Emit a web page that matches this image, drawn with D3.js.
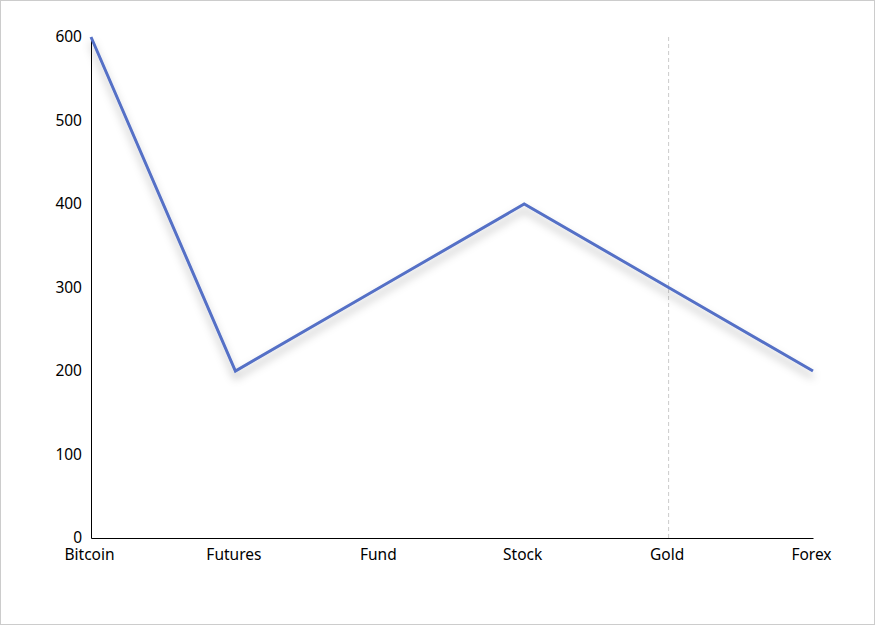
<!DOCTYPE html>
<html><head><meta charset="utf-8">
<script src="https://cdn.jsdelivr.net/npm/d3@7"></script>
<style>
body{margin:0;background:#fff}
svg{display:block}
</style></head>
<body>
<svg width="875" height="625"></svg>
<script>
// chart data
const categories = ["Bitcoin", "Futures", "Fund", "Stock", "Gold", "Forex"]
const values = [600, 200, 300, 400, 300, 200]
const yTicks = [0, 100, 200, 300, 400, 500, 600]
const highlighted = "Gold"

const margin = {left: 91, right: 62, top: 37, bottom: 87}
const width = 875, height = 625

const svg = d3.select("svg")
svg.append("rect").attr("x", 0.5).attr("y", 0.5).attr("width", width - 1).attr("height", height - 1)
    .attr("fill", "#fff").attr("stroke", "#ccc")

const x = d3.scalePoint().domain(categories).range([margin.left, width - margin.right])
const y = d3.scaleLinear().domain([0, 600]).range([height - margin.bottom, margin.top])

const defs = svg.append("defs")
const f = defs.append("filter").attr("id", "shadow").attr("x", "-10%").attr("y", "-10%").attr("width", "120%").attr("height", "130%")
f.append("feDropShadow").attr("dx", 0).attr("dy", 6).attr("stdDeviation", 4)
    .attr("flood-color", "#000").attr("flood-opacity", 0.3)

const font = "'Noto Sans', sans-serif"

// crosshair
svg.append("line")
    .attr("x1", x(highlighted)).attr("x2", x(highlighted))
    .attr("y1", y(600)).attr("y2", y(0))
    .attr("stroke", "#ccc").attr("stroke-dasharray", "4,3")

// axes
const yAxis = svg.append("g").attr("transform", `translate(${margin.left},0)`)
    .call(d3.axisLeft(y).tickValues(yTicks).tickSize(0).tickPadding(9))
const xAxis = svg.append("g").attr("transform", `translate(0,${y(0)})`)
    .call(d3.axisBottom(x).tickSize(0).tickPadding(11))
;[xAxis, yAxis].forEach(g => {
    g.select(".domain").attr("stroke", "#000")
    g.selectAll("text").attr("font-family", font).attr("font-size", 15.5).attr("fill", "#000")
})
xAxis.selectAll("text").attr("dx", -2)

// line
const line = d3.line().x((d, i) => x(categories[i])).y(d => y(d))
svg.append("path").datum(values)
    .attr("d", line)
    .attr("fill", "none")
    .attr("stroke", "#5470c6")
    .attr("stroke-width", 3)
    .attr("filter", "url(#shadow)")
</script>
</body></html>
